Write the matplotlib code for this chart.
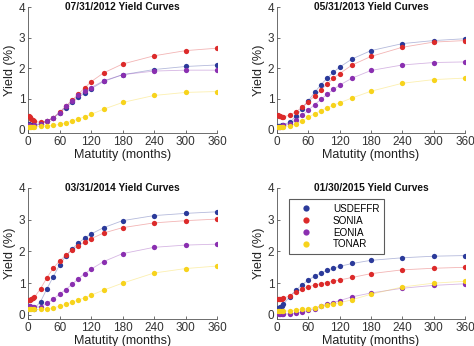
import matplotlib
matplotlib.use("Agg")
import matplotlib.pyplot as plt
from matplotlib.lines import Line2D

plt.rcParams['font.family'] = ['Liberation Sans', 'DejaVu Sans']

maturities = [1, 3, 6, 9, 12, 24, 36, 48, 60, 72, 84, 96, 108, 120, 144, 180, 240, 300, 360]

series_names = ["USDEFFR", "SONIA", "EONIA", "TONAR"]
series_colors = ["#2b3a9a", "#dc2a2a", "#8a2fb0", "#f7d31c"]

titles = ["07/31/2012 Yield Curves", "05/31/2013 Yield Curves",
          "03/31/2014 Yield Curves", "01/30/2015 Yield Curves"]

usd_2012 = [0.15, 0.14, 0.13, 0.13, 0.14, 0.18, 0.25, 0.36, 0.52, 0.70, 0.87, 1.04, 1.18, 1.32, 1.56, 1.78, 1.95, 2.05, 2.10]
gbp_2012 = [0.42, 0.38, 0.33, 0.28, 0.25, 0.22, 0.26, 0.37, 0.55, 0.75, 0.95, 1.15, 1.35, 1.55, 1.84, 2.13, 2.40, 2.57, 2.65]
eur_2012 = [0.12, 0.10, 0.10, 0.10, 0.12, 0.17, 0.25, 0.37, 0.54, 0.74, 0.92, 1.10, 1.24, 1.36, 1.58, 1.78, 1.90, 1.93, 1.93]
jpy_2012 = [0.08, 0.08, 0.08, 0.08, 0.08, 0.09, 0.10, 0.12, 0.15, 0.20, 0.26, 0.33, 0.40, 0.48, 0.65, 0.87, 1.10, 1.20, 1.23]

usd_2013 = [0.10, 0.10, 0.10, 0.12, 0.14, 0.22, 0.42, 0.67, 0.93, 1.20, 1.45, 1.67, 1.86, 2.03, 2.30, 2.57, 2.80, 2.90, 2.96]
gbp_2013 = [0.45, 0.43, 0.42, 0.40, 0.40, 0.45, 0.56, 0.72, 0.90, 1.08, 1.28, 1.48, 1.66, 1.82, 2.10, 2.38, 2.68, 2.85, 2.90]
eur_2013 = [0.08, 0.08, 0.08, 0.10, 0.12, 0.18, 0.30, 0.45, 0.62, 0.80, 0.97, 1.14, 1.30, 1.44, 1.67, 1.92, 2.10, 2.18, 2.20]
jpy_2013 = [0.07, 0.07, 0.07, 0.07, 0.08, 0.10, 0.16, 0.27, 0.38, 0.50, 0.60, 0.70, 0.78, 0.86, 1.02, 1.24, 1.50, 1.62, 1.67]

usd_2014 = [0.25, 0.24, 0.23, 0.22, 0.20, 0.42, 0.82, 1.20, 1.57, 1.85, 2.08, 2.27, 2.42, 2.55, 2.75, 2.97, 3.13, 3.20, 3.25]
gbp_2014 = [0.48, 0.48, 0.50, 0.52, 0.55, 0.83, 1.17, 1.47, 1.70, 1.88, 2.05, 2.18, 2.30, 2.40, 2.58, 2.75, 2.90, 2.97, 3.02]
eur_2014 = [0.27, 0.27, 0.25, 0.24, 0.24, 0.26, 0.36, 0.50, 0.65, 0.80, 0.97, 1.14, 1.30, 1.44, 1.68, 1.93, 2.13, 2.20, 2.23]
jpy_2014 = [0.17, 0.17, 0.17, 0.17, 0.17, 0.17, 0.19, 0.22, 0.27, 0.33, 0.40, 0.47, 0.54, 0.62, 0.78, 1.00, 1.32, 1.46, 1.54]

usd_2015 = [0.22, 0.22, 0.25, 0.28, 0.33, 0.57, 0.78, 0.95, 1.10, 1.22, 1.32, 1.40, 1.47, 1.53, 1.62, 1.72, 1.80, 1.85, 1.87]
gbp_2015 = [0.50, 0.50, 0.50, 0.51, 0.52, 0.60, 0.72, 0.82, 0.88, 0.94, 0.98, 1.02, 1.06, 1.10, 1.18, 1.30, 1.42, 1.47, 1.50]
eur_2015 = [0.05, 0.04, 0.03, 0.03, 0.03, 0.03, 0.05, 0.09, 0.14, 0.20, 0.27, 0.33, 0.39, 0.45, 0.57, 0.69, 0.84, 0.93, 0.98]
jpy_2015 = [0.12, 0.12, 0.12, 0.12, 0.12, 0.13, 0.15, 0.17, 0.20, 0.23, 0.27, 0.31, 0.35, 0.38, 0.48, 0.65, 0.88, 1.00, 1.06]

panels = [
    [usd_2012, gbp_2012, eur_2012, jpy_2012],
    [usd_2013, gbp_2013, eur_2013, jpy_2013],
    [usd_2014, gbp_2014, eur_2014, jpy_2014],
    [usd_2015, gbp_2015, eur_2015, jpy_2015],
]

fig = plt.figure(figsize=(4.74, 3.46), dpi=100)
W, H = 474, 346
YMIN, YMAX = -0.13, 4.0
# pixel boxes: left, right, top (y=4), bottom (axis line)
boxes = [(28, 217, 7, 133), (277, 465, 7, 133), (28, 217, 188, 319), (277, 465, 188, 319)]

axes = []
for (x0, x1, ytop, ybot), title, curves in zip(boxes, titles, panels):
    ax = fig.add_axes([x0 / W, 1 - ybot / H, (x1 - x0) / W, (ybot - ytop) / H])
    for vals, col in zip(curves, series_colors):
        ax.plot(maturities, vals, '-', color=col, lw=0.6, alpha=0.35, zorder=2)
        ax.plot(maturities, vals, 'o', color=col, ms=3.8, mec='none', zorder=3)
    ax.set_xlim(0, 360)
    ax.set_ylim(YMIN, YMAX)
    ax.set_xticks(range(0, 361, 60))
    ax.set_yticks(range(0, 5))
    for s in ('top', 'right'):
        ax.spines[s].set_visible(False)
    for s in ('left', 'bottom'):
        ax.spines[s].set_color('#555555')
        ax.spines[s].set_linewidth(0.6)
    ax.tick_params(direction='in', length=2, width=0.5, labelsize=8.5, colors='#333333', pad=2)
    ax.set_xlabel("Matutity (months)", fontsize=9, labelpad=1, color='#222222')
    ax.set_ylabel("Yield (%)", fontsize=9.2, labelpad=2, color='#222222')
    ax.text(0.5, 1.0, title, transform=ax.transAxes, ha='center', va='center',
            fontsize=7.3, fontweight='bold', color='#111111')
    axes.append(ax)

handles = [Line2D([], [], ls='none', marker='o', ms=4.5, color=c, mec='none') for c in series_colors]
leg = axes[3].legend(handles, series_names, loc='upper left', bbox_to_anchor=(0.064, 0.915),
                     fontsize=7.1, frameon=True, fancybox=False, handlelength=2.6,
                     handletextpad=1.4, borderpad=0.45, labelspacing=0.2, borderaxespad=0)
leg.get_frame().set_edgecolor('#333333')
leg.get_frame().set_linewidth(0.8)

fig.savefig("out.png", dpi=100)
